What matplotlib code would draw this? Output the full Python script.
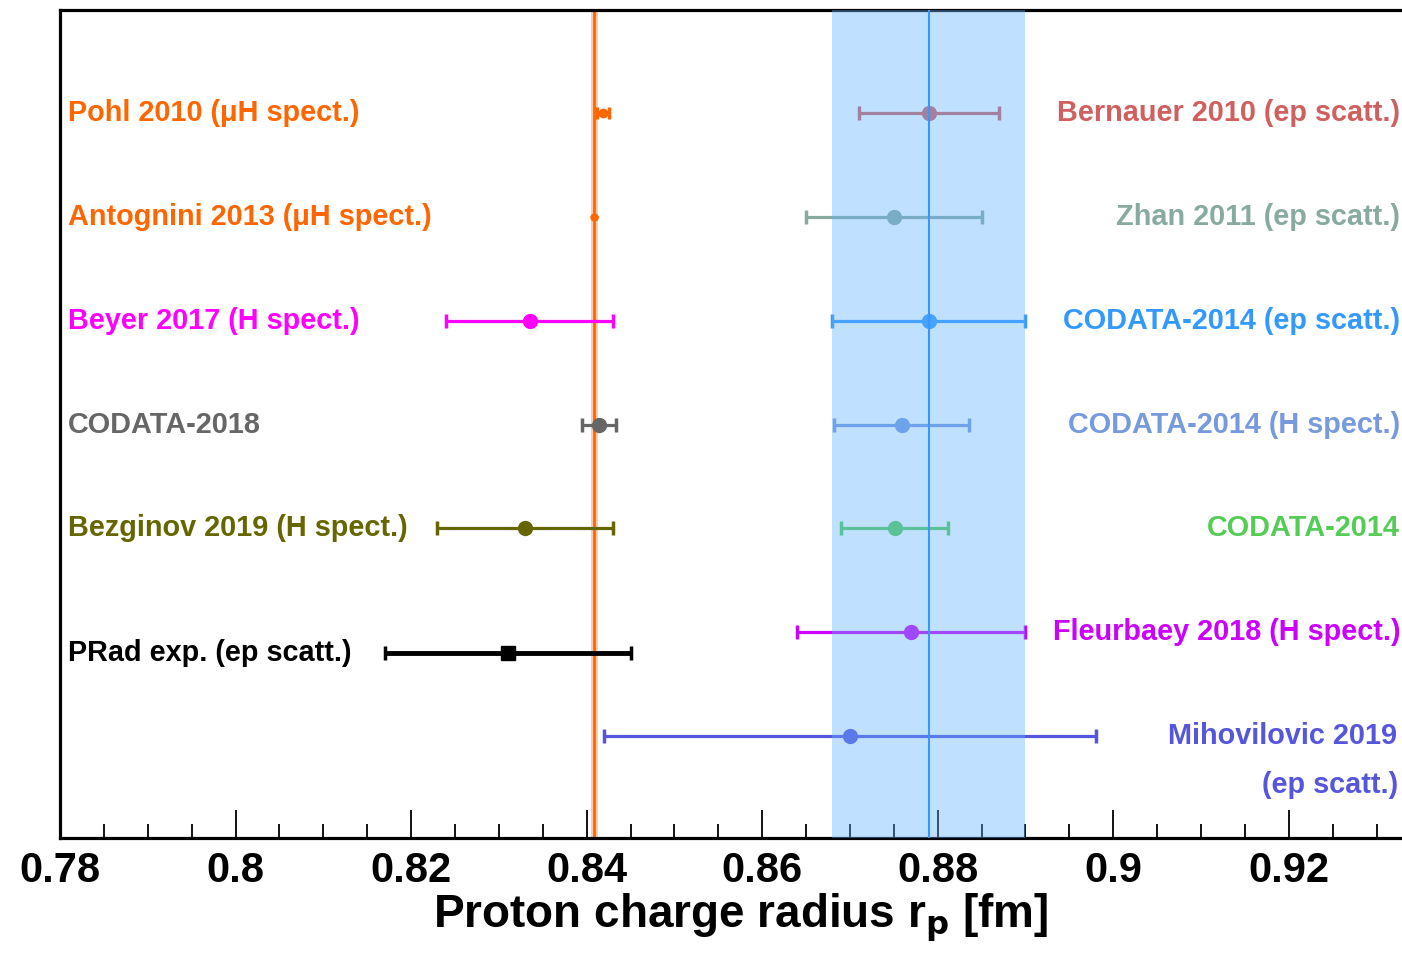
import matplotlib
matplotlib.use("Agg")
import matplotlib.pyplot as plt
from matplotlib.ticker import MultipleLocator

plt.rcParams['font.family'] = ['Liberation Sans', 'DejaVu Sans']
plt.rcParams['font.weight'] = 'bold'

# left column (muonic / H spect. + PRad)
left_names = ["Pohl 2010 (μH spect.)", "Antognini 2013 (μH spect.)", "Beyer 2017 (H spect.)",
              "CODATA-2018", "Bezginov 2019 (H spect.)", "PRad exp. (ep scatt.)"]
left_val = [0.84184, 0.84087, 0.8335, 0.8414, 0.833, 0.831]
left_err = [0.00067, 0.00039, 0.0095, 0.0019, 0.010, 0.014]
left_row = [0, 1, 2, 3, 4, 5.2]
left_col = ["#FF6600", "#FF6600", "#FF00FF", "#666666", "#666600", "#000000"]

# right column (ep scatt. and CODATA-2014)
right_names = ["Bernauer 2010 (ep scatt.)", "Zhan 2011 (ep scatt.)", "CODATA-2014 (ep scatt.)",
               "CODATA-2014 (H spect.)", "CODATA-2014", "Fleurbaey 2018 (H spect.)",
               "Mihovilovic 2019\n(ep scatt.)"]
right_val = [0.879, 0.875, 0.879, 0.8759, 0.8751, 0.877, 0.870]
right_err = [0.008, 0.010, 0.011, 0.0077, 0.0061, 0.013, 0.028]
right_row = [0, 1, 2, 3, 4, 5, 6]
right_col = ["#D06060", "#88AAA0", "#3399FF", "#7799DD", "#55CC55", "#CC00FF", "#5555DD"]

muH_r, muH_e = 0.84087, 0.00039
ep_r, ep_e = 0.879, 0.011

fig = plt.figure(figsize=(14.02, 9.55), dpi=100)
ax = fig.add_axes([60/1402, 1-838/955, 1-60/1402, (838-10)/955])

ax.set_xlim(0.78, 0.9329)
ax.set_ylim(6.98, -0.99)

# bands
ax.axvspan(muH_r - muH_e, muH_r + muH_e, color="#FFCCAA", zorder=1, lw=0)
ax.axvline(muH_r, color="#FF6600", lw=2, zorder=2)
ax.axvspan(ep_r - ep_e, ep_r + ep_e, color="#62B2FF", alpha=0.4, zorder=6, lw=0)
ax.axvline(ep_r, color="#3399FF", lw=1.5, zorder=7)

msizes = [6, 5, 10, 10, 10, 10]
caps = [4, 0, 5, 5, 5, 5]
fs = 20.8
for i in range(len(left_val)):
    lw = 3.5 if i == 5 else 2.3
    mk = "s" if i == 5 else "o"
    ax.errorbar(left_val[i], left_row[i], xerr=left_err[i], fmt=mk, color=left_col[i],
                ms=msizes[i], lw=lw, capsize=caps[i], capthick=2.5, zorder=4)
    ax.text(0.7809, left_row[i], left_names[i], color=left_col[i], fontsize=fs,
            fontweight='bold', ha='left', va='center', zorder=8)

for i in range(len(right_val)):
    ax.errorbar(right_val[i], right_row[i], xerr=right_err[i], fmt="o", color=right_col[i],
                ms=10, lw=2.3, capsize=5, capthick=2.5, zorder=4)
    if "\n" in right_names[i]:
        a, b = right_names[i].split("\n")
        ax.text(0.9324, right_row[i], a, color=right_col[i], fontsize=fs,
                fontweight='bold', ha='right', va='center', zorder=8)
        ax.text(0.9325, right_row[i] + 0.47, b, color=right_col[i], fontsize=fs,
                fontweight='bold', ha='right', va='center', zorder=8)
    else:
        ax.text(0.9327, right_row[i], right_names[i], color=right_col[i], fontsize=fs,
                fontweight='bold', ha='right', va='center', zorder=8)

ax.spines['right'].set_visible(False)
for s in ['left', 'top', 'bottom']:
    ax.spines[s].set_linewidth(2.3)
ax.set_yticks([])
ax.xaxis.set_major_locator(MultipleLocator(0.02))
ax.xaxis.set_minor_locator(MultipleLocator(0.005))
ax.tick_params(axis='x', which='major', direction='in', length=20, width=1.3, labelsize=30, pad=9)
ax.tick_params(axis='x', which='minor', direction='in', length=10, width=1.3)
ax.set_xticks([0.78, 0.8, 0.82, 0.84, 0.86, 0.88, 0.9, 0.92])
ax.set_xticklabels(["0.78", "0.8", "0.82", "0.84", "0.86", "0.88", "0.9", "0.92"], fontweight='bold')
ax.set_xlabel("Proton charge radius r$_\\mathbf{p}$ [fm]", fontsize=33, fontweight='bold')
ax.xaxis.set_label_coords((741-60)/1342, -0.065)

fig.savefig("out.png", dpi=100)
